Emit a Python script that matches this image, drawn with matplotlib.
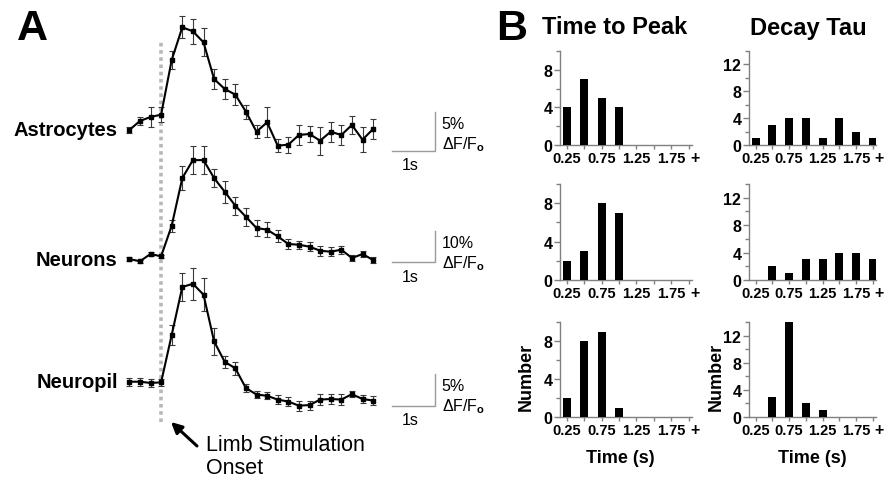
import matplotlib
matplotlib.use("Agg")
import matplotlib.pyplot as plt
from matplotlib.ticker import FixedLocator

W, H, DPI = 889, 481, 100

plt.rcParams["font.family"] = ["Liberation Sans", "DejaVu Sans"]
plt.rcParams["font.weight"] = "bold"
plt.rcParams["mathtext.fontset"] = "custom"
plt.rcParams["mathtext.rm"] = "Liberation Sans"
plt.rcParams["mathtext.it"] = "Liberation Sans:italic"
plt.rcParams["mathtext.bf"] = "Liberation Sans:bold"

# ---- panel A: mean dF/F traces (%), 0.25 s sampling, onset at t = 0 ----
times = [-0.75, -0.5, -0.25, 0.0, 0.25, 0.5, 0.75, 1.0, 1.25, 1.5, 1.75, 2.0,
         2.25, 2.5, 2.75, 3.0, 3.25, 3.5, 3.75, 4.0, 4.25, 4.5, 4.75, 5.0]

astro = [0, 1.15, 1.67, 1.96, 8.97, 13.17, 12.65, 11.24, 6.54, 5.26, 4.53, 2.35,
         -0.22, 0.99, -2.01, -1.88, -0.64, -0.51, -1.37, -0.22, -0.64, 0.64, -1.24, 0.13]
astro_err = [0.36, 0.55, 1.28, 0.98, 1.1, 1.41, 1.6, 1.8, 1.28, 1.32, 1.35, 0.9,
             0.85, 1.92, 0.85, 1.03, 1.32, 1.03, 1.8, 1.28, 1.28, 1.13, 1.6, 1.22]

neuron = [0, -0.74, 1.61, 0.87, 10.74, 26.1, 31.9, 31.9, 26.1, 21.7, 17.2, 13.6,
          10.0, 9.45, 7.3, 4.84, 4.6, 3.97, 2.68, 2.35, 3.0, 0.32, 1.6, -0.32]
neuron_err = [0.5, 0.5, 0.5, 0.5, 2.0, 4.0, 4.5, 4.5, 2.9, 3.5, 2.9, 2.9,
              2.7, 2.4, 1.9, 1.7, 1.3, 1.5, 1.6, 1.45, 1.3, 1.05, 0.95, 0.9]

neuropil = [0, 0, -0.2, -0.1, 7.3, 14.8, 15.3, 13.6, 6.3, 3.1, 2.1, -1.0,
            -2.0, -2.2, -2.8, -3.1, -3.75, -3.65, -2.8, -2.7, -2.8, -1.95, -2.7, -2.95]
neuropil_err = [0.6, 0.6, 0.6, 0.6, 1.55, 2.15, 2.5, 2.6, 2.1, 0.9, 1.0, 0.65,
                0.5, 0.55, 0.65, 0.7, 0.8, 0.7, 0.9, 0.8, 0.85, 0.5, 0.6, 0.65]

trace_names = ["Astrocytes", "Neurons", "Neuropil"]
scale_pct = [5, 10, 5]

# ---- panel B: histograms ----
bins = [0.25, 0.5, 0.75, 1.0, 1.25, 1.5, 1.75, 2.0]
bin_labels = ["0.25", "", "0.75", "", "1.25", "", "1.75", ""]
ttp_astro = [4, 7, 5, 4, 0, 0, 0, 0]
ttp_neuron = [2, 3, 8, 7, 0, 0, 0, 0]
ttp_neuropil = [2, 8, 9, 1, 0, 0, 0, 0]
tau_astro = [1, 3, 4, 4, 1, 4, 2, 1]
tau_neuron = [0, 2, 1, 3, 3, 4, 4, 3]
tau_neuropil = [0, 3, 14, 2, 1, 0, 0, 0]


def px_rect(left, top, right, bottom):
    return [left / W, 1 - bottom / H, (right - left) / W, (bottom - top) / H]


def fy(y):  # top-based pixel row -> figure fraction
    return 1 - y / H


fig = plt.figure(figsize=(W / DPI, H / DPI), dpi=DPI)

# trace layout: baseline pixel row and pixels per 1 % dF/F
T0_PX, PX_PER_S = 129.3, 42.4
A_LEFT, A_RIGHT = 100, 480
xlim_a = (times[0] + (A_LEFT - T0_PX) / PX_PER_S, times[0] + (A_RIGHT - T0_PX) / PX_PER_S)
layout = [(131.0, 7.8), (260.0, 3.1), (382.7, 6.4)]
sb_bottom_px = [151.7, 263.0, 407.0]

bg = fig.add_axes(px_rect(A_LEFT, 0, A_RIGHT, H))
bg.set_xlim(xlim_a)
bg.axis("off")
bg.axvline(0.0, ymin=fy(423), ymax=fy(42), color="#b8b8b8", lw=2.6,
           linestyle=(0, (1, 1.0)), zorder=0)

series = [(astro, astro_err), (neuron, neuron_err), (neuropil, neuropil_err)]
sb_t0, sb_t1 = 5.45, 6.45
for (vals, errs), name, (y0, k), sb_px, pct in zip(series, trace_names, layout,
                                                   sb_bottom_px, scale_pct):
    ax = fig.add_axes(px_rect(A_LEFT, 0, A_RIGHT, H))
    ax.patch.set_alpha(0)
    ax.axis("off")
    ax.set_xlim(xlim_a)
    ax.set_ylim(-(H - y0) / k, y0 / k)
    ax.errorbar(times, vals, yerr=errs, fmt="s-", color="black", ms=3.2, lw=1.5,
                ecolor="#3a3a3a", elinewidth=0.8, capsize=2.5, capthick=0.8, zorder=3)
    ax.text(times[0] - 0.27, vals[0], name, ha="right", va="center", fontsize=14.5,
            fontweight="bold")
    # scale bar
    yb = (y0 - sb_px) / k
    ax.plot([sb_t0, sb_t1, sb_t1], [yb, yb, yb + pct], color="#9a9a9a", lw=1.0,
            solid_joinstyle="miter")
    ax.annotate(f"{pct}%", xy=(sb_t1, yb + pct), xytext=(7, -12), textcoords="offset pixels",
                ha="left", va="center", fontsize=11.5, fontweight="normal")
    ax.annotate(r"ΔF/F$_{\rm o}$", xy=(sb_t1, yb + pct), xytext=(7, -32),
                textcoords="offset pixels", ha="left", va="center", fontsize=11.5,
                fontweight="normal")
    ax.annotate("1s", xy=((sb_t0 + sb_t1) / 2, yb), xytext=(-3, -14),
                textcoords="offset pixels", ha="center", va="center", fontsize=11.5,
                fontweight="normal")

bg.annotate("", xy=(171, H - 423), xycoords="figure pixels", xytext=(197, H - 447),
            textcoords="figure pixels",
            arrowprops=dict(arrowstyle="-|>", color="black", lw=2.2, mutation_scale=16,
                            shrinkA=0, shrinkB=0))
fig.text(206 / W, fy(457), "Limb Stimulation\nOnset", ha="left", va="center",
         fontsize=15.5, fontweight="normal", linespacing=1.15)

fig.text(32 / W, fy(28.5), "A", ha="center", va="center", fontsize=31, fontweight="bold")
fig.text(512 / W, fy(28.5), "B", ha="center", va="center", fontsize=31, fontweight="bold")
fig.text(615 / W, fy(28), "Time to Peak", ha="center", va="center", fontsize=17,
         fontweight="bold")
fig.text(808 / W, fy(28), "Decay Tau", ha="center", va="center", fontsize=17,
         fontweight="bold")

GREY = "#808080"
rows_px = [(52, 146), (185, 281), (323, 418)]
cols = [
    ((560, 692), [ttp_astro, ttp_neuron, ttp_neuropil], 10, [0, 4, 8], [2, 6, 10], 0.46),
    ((749, 876), [tau_astro, tau_neuron, tau_neuropil], 14, [0, 4, 8, 12], [2, 6, 10, 14], 0.5),
]
for (x0, x1), col_counts, ymax, major, minor, xlab_x in cols:
    for r, ((top, bot), counts) in enumerate(zip(rows_px, col_counts)):
        ax = fig.add_axes(px_rect(x0, top, x1, bot))
        ax.bar(bins, counts, width=0.12, color="black", zorder=3)
        ax.set_xlim(0.15, 2.05)
        ax.set_ylim(0, ymax)
        for s in ("top", "right"):
            ax.spines[s].set_visible(False)
        for s in ("left", "bottom"):
            ax.spines[s].set_color(GREY)
            ax.spines[s].set_linewidth(1.0)
        ax.set_xticks(bins)
        ax.set_xticklabels(bin_labels)
        ax.set_yticks(major)
        ax.yaxis.set_minor_locator(FixedLocator(minor))
        ax.tick_params(axis="both", which="both", direction="out", color=GREY,
                       width=1.0, labelsize=10.5, pad=1.5)
        ax.tick_params(axis="y", labelsize=11.5)
        ax.tick_params(axis="x", length=3)
        ax.tick_params(axis="y", which="major", length=4)
        ax.tick_params(axis="y", which="minor", length=3)
        for lab in ax.get_xticklabels() + ax.get_yticklabels():
            lab.set_fontweight("bold")
        ax.annotate("+", xy=(bins[-1], 0), xycoords=("data", "axes fraction"),
                    xytext=(6, -13), textcoords="offset pixels", ha="center",
                    va="center", fontsize=11.5, fontweight="bold", annotation_clip=False)
        if r == 2:
            ax.set_ylabel("Number", fontsize=13, fontweight="bold")
            ax.yaxis.set_label_coords(-0.19, 0.43)
            ax.set_xlabel("Time (s)", fontsize=13, fontweight="bold")
            ax.xaxis.set_label_coords(xlab_x, -0.34)

fig.savefig("out.png", dpi=DPI)
